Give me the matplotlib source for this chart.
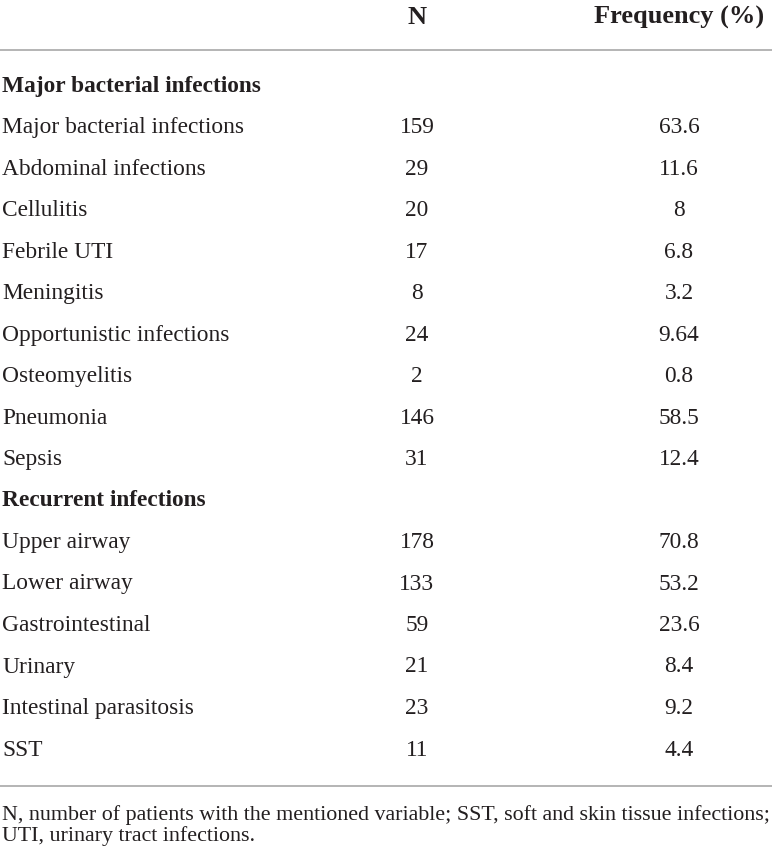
import matplotlib
matplotlib.use("Agg")
from matplotlib import pyplot as plt

# table content
col_headers = ["N", "Frequency (%)"]
section_1 = "Major bacterial infections"
labels_1 = ["Major bacterial infections", "Abdominal infections", "Cellulitis",
            "Febrile UTI", "Meningitis", "Opportunistic infections",
            "Osteomyelitis", "Pneumonia", "Sepsis"]
n_1 = [159, 29, 20, 17, 8, 24, 2, 146, 31]
freq_1 = ["63.6", "11.6", "8", "6.8", "3.2", "9.64", "0.8", "58.5", "12.4"]

section_2 = "Recurrent infections"
labels_2 = ["Upper airway", "Lower airway", "Gastrointestinal", "Urinary",
            "Intestinal parasitosis", "SST"]
n_2 = [178, 133, 59, 21, 23, 11]
freq_2 = ["70.8", "53.2", "23.6", "8.4", "9.2", "4.4"]

footnote = ["N, number of patients with the mentioned variable; SST, soft and skin tissue infections;",
            "UTI, urinary tract infections."]

txt_color = "#231f20"
rule_color = "#a8a8a8"
plt.rcParams['font.family'] = ['Liberation Serif', 'DejaVu Serif']

W, H = 772, 853
fig = plt.figure(figsize=(W / 100, H / 100), dpi=100)
ax = fig.add_axes([0, 0, 1, 1])
ax.set_xlim(0, W)
ax.set_ylim(H, 0)
ax.axis("off")

x_label = 2
x_n = 417
x_freq = 679
fs = 16.8

# header
ax.text(x_n, 17, col_headers[0], ha="center", va="center", fontsize=19,
        fontweight="bold", color=txt_color)
ax.text(x_freq, 17, col_headers[1], ha="center", va="center", fontsize=19,
        fontweight="bold", color=txt_color)
ax.plot([0, W], [51, 51], color=rule_color, lw=1.2)

# rows
rows = [(section_1, None, None, True)]
rows += [(l, n, f, False) for l, n, f in zip(labels_1, n_1, freq_1)]
rows += [(section_2, None, None, True)]
rows += [(l, n, f, False) for l, n, f in zip(labels_2, n_2, freq_2)]

y0 = 86
dy = 41.5
for i, (lab, n, f, bold) in enumerate(rows):
    y = y0 + i * dy
    ax.text(x_label, y, lab, ha="left", va="center", fontsize=fs,
            fontweight="bold" if bold else "normal", color=txt_color)
    if n is not None:
        ax.text(x_n, y, str(n), ha="center", va="center", fontsize=fs, color=txt_color)
        ax.text(x_freq, y, f, ha="center", va="center", fontsize=fs, color=txt_color)

ax.plot([0, W], [787, 787], color=rule_color, lw=1.2)

for j, line in enumerate(footnote):
    ax.text(x_label, 815 + j * 21, line, ha="left", va="center", fontsize=15.8,
            color=txt_color)

fig.savefig("out.png", dpi=100)
